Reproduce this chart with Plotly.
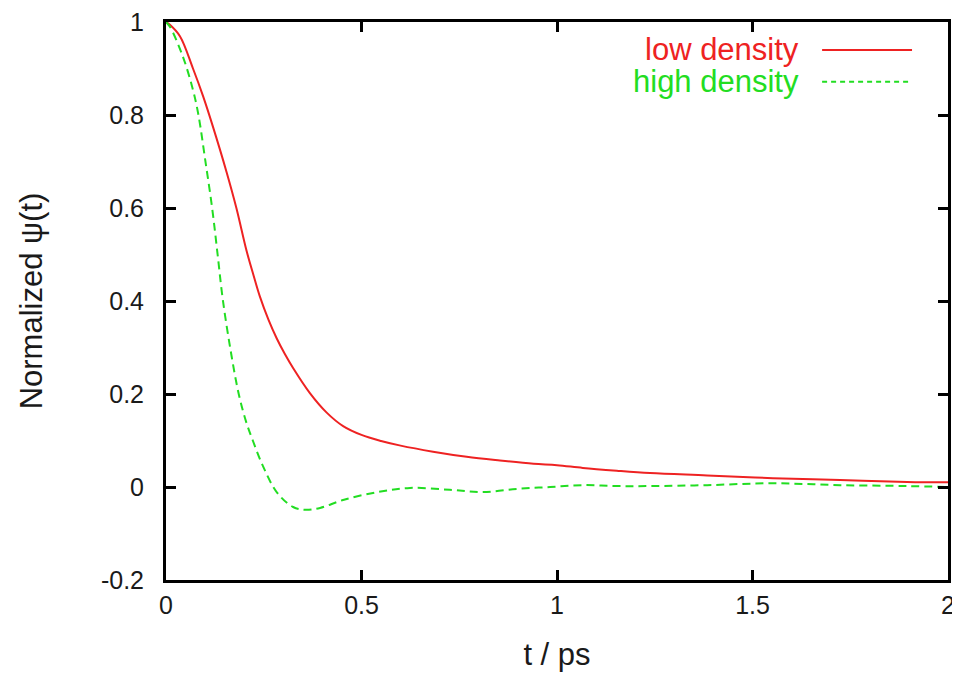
import plotly.graph_objects as go

# ---- data ----
t_low = [0.0, 0.010, 0.036, 0.069, 0.095, 0.120, 0.155, 0.180, 0.206, 0.224, 0.240, 0.262,
         0.283, 0.304, 0.325, 0.368, 0.411, 0.453, 0.500, 0.550, 0.600, 0.683, 0.769, 0.854,
         0.940, 1.000, 1.066, 1.153, 1.238, 1.384, 1.552, 1.724, 1.895, 2.0]
psi_low = [1.0, 0.994, 0.969, 0.900, 0.840, 0.775, 0.677, 0.600, 0.508, 0.455, 0.410, 0.360,
           0.320, 0.286, 0.256, 0.202, 0.160, 0.131, 0.112, 0.099, 0.089, 0.076, 0.065, 0.057,
           0.050, 0.047, 0.041, 0.035, 0.030, 0.025, 0.019, 0.015, 0.011, 0.010]

t_high = [0.0, 0.010, 0.043, 0.069, 0.083, 0.100, 0.118, 0.132, 0.145, 0.165, 0.186, 0.205,
          0.222, 0.248, 0.284, 0.325, 0.355, 0.394, 0.453, 0.540, 0.624, 0.726, 0.811, 0.898,
          0.982, 1.066, 1.153, 1.238, 1.384, 1.552, 1.724, 1.895, 2.0]
psi_high = [1.0, 0.990, 0.926, 0.854, 0.800, 0.705, 0.600, 0.500, 0.405, 0.295, 0.200, 0.140,
            0.100, 0.045, -0.012, -0.043, -0.049, -0.045, -0.028, -0.011, -0.002, -0.006,
            -0.011, -0.004, 0.0, 0.004, 0.002, 0.002, 0.004, 0.008, 0.004, 0.002, 0.0]

series_names = ["low density", "high density"]
x_ticks = [0, 0.5, 1, 1.5, 2]
x_tick_labels = ["0", "0.5", "1", "1.5", "2"]
y_ticks = [-0.2, 0, 0.2, 0.4, 0.6, 0.8, 1]
y_tick_labels = ["-0.2", "0", "0.2", "0.4", "0.6", "0.8", "1"]

RED = "#ee2222"
GREEN = "#22dd22"
TXT = "#1a1a1a"
FONT = "Liberation Sans, Arial, sans-serif"

fig = go.Figure()
fig.add_trace(go.Scatter(x=t_low, y=psi_low, mode="lines", name=series_names[0],
                         line=dict(color=RED, width=2, shape="spline", smoothing=1.0),
                         showlegend=False))
fig.add_trace(go.Scatter(x=t_high, y=psi_high, mode="lines", name=series_names[1],
                         line=dict(color=GREEN, width=2, dash="8px,5px", shape="spline", smoothing=1.0),
                         showlegend=False))

# gnuplot-style key: text on the left, line sample on the right
key = [(series_names[0], RED, "solid", 0.950), (series_names[1], GREEN, "5px,4px", 0.893)]
for name, col, dash, yp in key:
    fig.add_annotation(x=0.812, y=yp, xref="paper", yref="paper", text=name,
                       showarrow=False, xanchor="right", yanchor="middle",
                       font=dict(family=FONT, size=31, color=col))
    fig.add_shape(type="line", xref="paper", yref="paper", x0=0.839, x1=0.954, y0=yp, y1=yp,
                  line=dict(color=col, width=2, dash=dash))

axis_common = dict(showline=True, linecolor="black", linewidth=3, mirror="ticks",
                   ticks="inside", ticklen=10, tickwidth=3, tickcolor="black",
                   showgrid=False, zeroline=False, automargin=False,
                   ticklabeloverflow="allow",
                   tickfont=dict(family=FONT, size=25, color=TXT))

fig.update_xaxes(range=[0, 2], tickvals=x_ticks, ticktext=x_tick_labels, ticklabelstandoff=1,
                 title=dict(text="t / ps", font=dict(family=FONT, size=31, color=TXT), standoff=26),
                 **axis_common)
fig.update_yaxes(range=[-0.2, 1], tickvals=y_ticks, ticktext=y_tick_labels, ticklabelstandoff=14,
                 title=dict(text="Normalized ψ(t)", font=dict(family=FONT, size=31, color=TXT), standoff=50),
                 **axis_common)

# page has an 8px body margin, so the figure is 952x672 to fill a 960x680 window
fig.update_layout(width=952, height=672, plot_bgcolor="white", paper_bgcolor="white",
                  margin=dict(l=158, r=12, t=14, b=100), showlegend=False)

fig.write_html("out.html")
